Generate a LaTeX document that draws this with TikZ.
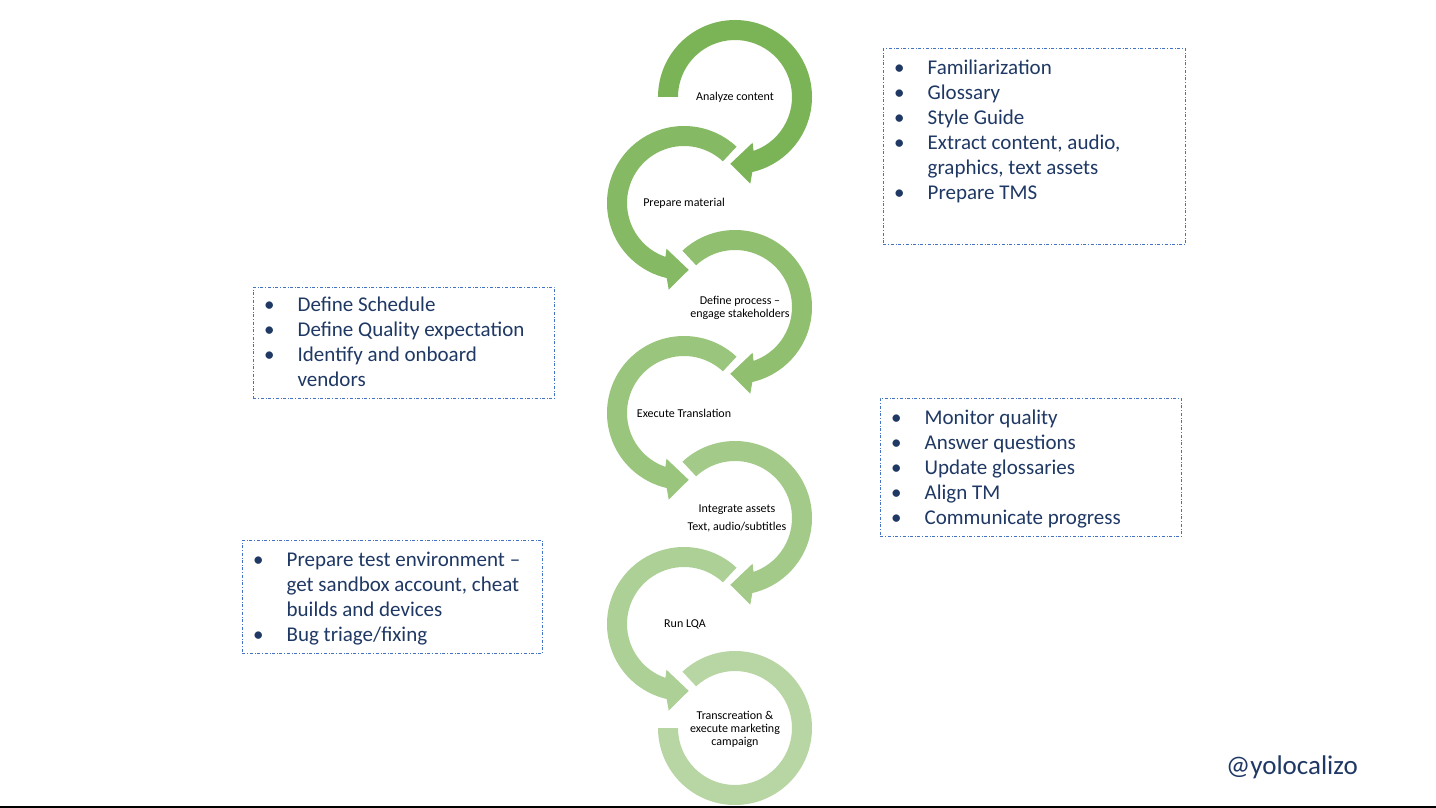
\documentclass[tikz,border=0pt]{standalone}
\usepackage{fontspec}
\setmainfont{Carlito}
\usetikzlibrary{calc}
\definecolor{navy}{HTML}{1F3864}
\definecolor{boxblue}{HTML}{4472C4}
\definecolor{gbase}{HTML}{70AD47}
% clockwise circular arrow: #1 centre, #2 tail angle, #3 colour
\newcommand\cwarrow[3]{%
  \fill[#3] ($(#1)+(#2:77)$) arc[start angle=#2, end angle=-77, radius=77]
    -- ($(#1)+(-80:88)$) -- ($(#1)+(-94:67)$) -- ($(#1)+(-69:49)$)
    -- ($(#1)+(-71:57)$) arc[start angle=-71, end angle=#2, radius=57] -- cycle;}
% counter-clockwise circular arrow
\newcommand\ccwarrow[3]{%
  \fill[#3] ($(#1)+(#2:77)$) arc[start angle=#2, end angle=257, radius=77]
    -- ($(#1)+(260:88)$) -- ($(#1)+(274:67)$) -- ($(#1)+(249:49)$)
    -- ($(#1)+(251:57)$) arc[start angle=251, end angle=#2, radius=57] -- cycle;}
\begin{document}
\begin{tikzpicture}[x=1pt,y=1pt,
  lbl/.style={font=\fontsize{12}{13}\selectfont, align=center, inner sep=0pt},
  listbox/.style={draw=boxblue, dash dot, line width=0.8pt, anchor=north west, inner sep=0pt},
  listtext/.style={font=\fontsize{21}{25}\selectfont, text=navy, anchor=north west, inner sep=0pt}]
\useasboundingbox (0,0) rectangle (1436,-808);
\fill[white] (0,0) rectangle (1436,-808);

% centres
\coordinate (c1) at (735,-97);
\coordinate (c2) at (684,-203);
\coordinate (c3) at (735,-307);
\coordinate (c4) at (684,-413);
\coordinate (c5) at (735,-518);
\coordinate (c6) at (684,-624);
\coordinate (c7) at (735,-728);

\cwarrow{c1}{180}{gbase!92!white}
\ccwarrow{c2}{47}{gbase!85!white}
\cwarrow{c3}{133}{gbase!78!white}
\ccwarrow{c4}{47}{gbase!71!white}
\cwarrow{c5}{133}{gbase!64!white}
\ccwarrow{c6}{47}{gbase!57!white}
\fill[gbase!50!white] ($(c7)+(133:77)$) arc[start angle=133, end angle=-180, radius=77]
  -- ($(c7)+(180:57)$) arc[start angle=-180, end angle=133, radius=57] -- cycle;

% labels
\node[lbl] (l1) at (735,-97) {Analyze content};
\node[lbl] (l2) at (684,-203) {Prepare material};
\node[lbl] (l3) at (740,-307.5) {Define process –\\engage stakeholders};
\node[lbl] (l4) at (684,-413) {Execute Translation};
\node[lbl] (l5) at (737,-518) {Integrate assets\\[5pt]Text, audio/subtitles};
\node[lbl] (l6) at (685,-624) {Run LQA};
\node[lbl] (l7) at (735,-729) {Transcreation \&\\execute marketing\\campaign};

% boxes
\node[listbox, minimum width=302pt, minimum height=196pt] (box1) at (883,-48) {};
\node[listtext] (txt1) at (894,-57) {\begin{tabular}{@{}l@{\hspace{23pt}}l@{}}
• & Familiarization\\
• & Glossary\\
• & Style Guide\\
• & Extract content, audio,\\
  & graphics, text assets\\
• & Prepare TMS
\end{tabular}};

\node[listbox, minimum width=301pt, minimum height=111pt] (box2) at (253,-287) {};
\node[listtext] (txt2) at (264,-294) {\begin{tabular}{@{}l@{\hspace{23pt}}l@{}}
• & Define Schedule\\
• & Define Quality expectation\\
• & Identify and onboard\\
  & vendors
\end{tabular}};

\node[listbox, minimum width=300pt, minimum height=113pt] (box3) at (242,-540) {};
\node[listtext] (txt3) at (253,-549) {\begin{tabular}{@{}l@{\hspace{23pt}}l@{}}
• & Prepare test environment –\\
  & get sandbox account, cheat\\
  & builds and devices\\
• & Bug triage/fixing
\end{tabular}};

\node[listbox, minimum width=301pt, minimum height=138pt] (box4) at (880,-398) {};
\node[listtext] (txt4) at (891,-407) {\begin{tabular}{@{}l@{\hspace{23pt}}l@{}}
• & Monitor quality\\
• & Answer questions\\
• & Update glossaries\\
• & Align TM\\
• & Communicate progress
\end{tabular}};

\node[font=\fontsize{27}{30}\selectfont, text=navy, inner sep=0pt] (handle) at (1292,-767) {@yolocalizo};

\draw[line width=2pt] (0,-806.5) -- (1436,-806.5);
\end{tikzpicture}
\end{document}
